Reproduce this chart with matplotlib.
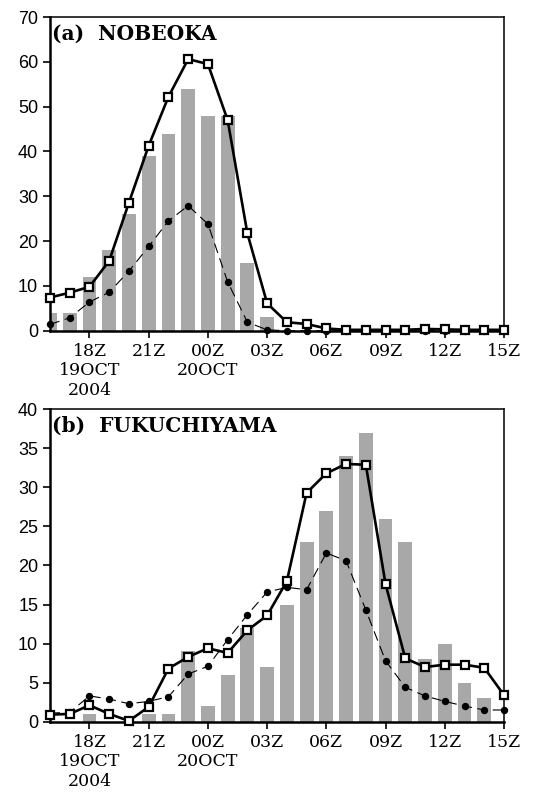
import matplotlib.pyplot as plt

# hours since 00Z 19 Oct 2004 (16Z 19 Oct .. 15Z 20 Oct)
hours = list(range(16, 40))

tick_hours = [18, 21, 24, 27, 30, 33, 36, 39]
tick_labels = ["18Z\n19OCT\n2004", "21Z", "00Z\n20OCT", "03Z", "06Z", "09Z", "12Z", "15Z"]

# (a) NOBEOKA
nobeoka_bars = [4, 4, 12, 18, 26, 39, 44, 54, 48, 48, 15, 3,
                0, 0, 0, 0, 0, 0, 0, 0, 0, 0, 0, 0]
nobeoka_squares = [7.4, 8.5, 9.8, 15.6, 28.6, 41.3, 52.2, 60.6, 59.5, 47.0, 21.7, 6.1,
                   1.9, 1.5, 0.5, 0.2, 0.2, 0.2, 0.2, 0.4, 0.3, 0.2, 0.2, 0.2]
nobeoka_dots = [1.4, 2.9, 6.4, 8.6, 13.3, 18.8, 24.5, 27.9, 23.8, 10.9, 1.9, 0.2,
                0, 0, 0, 0, 0, 0, 0, 0, 0, 0, 0, 0]

# (b) FUKUCHIYAMA
fuku_bars = [0, 0, 1, 0, 0, 1, 1, 9, 2, 6, 12, 7,
             15, 23, 27, 34, 37, 26, 23, 8, 10, 5, 3, 0]
fuku_squares = [0.9, 1.0, 2.1, 1.0, 0.1, 1.9, 6.8, 8.3, 9.4, 8.8, 11.7, 13.6,
                18.0, 29.3, 31.8, 33.0, 32.9, 17.6, 8.1, 7.0, 7.3, 7.3, 6.9, 3.4]
fuku_dots = [1.1, 1.2, 3.3, 2.9, 2.3, 2.6, 3.2, 6.1, 7.1, 10.5, 13.7, 16.6,
             17.2, 16.9, 21.6, 20.6, 14.3, 7.8, 4.4, 3.3, 2.6, 2.0, 1.5, 1.5]

serif = "DejaVu Serif"


def draw_panel(ax, bars, squares, dots, title, ymax, ystep):
    ax.bar(hours, bars, width=0.7, color="#a8a8a8", zorder=1)
    ax.plot(hours, dots, color="black", lw=0.8, ls=(0, (9, 5)),
            marker="o", ms=4.3, mfc="black", mec="black", zorder=2, clip_on=False)
    ax.plot(hours, squares, color="black", lw=1.9,
            marker="s", ms=5.5, mfc="white", mec="black", mew=1.6, zorder=3, clip_on=False)
    ax.set_xlim(16, 39)
    ax.set_ylim(0, ymax)
    ax.set_yticks(range(0, ymax + 1, ystep))
    ax.set_xticks(tick_hours)
    ax.set_xticklabels(tick_labels, family=serif, fontsize=12.5, linespacing=1.2)
    for lab in ax.get_yticklabels():
        lab.set_family("Liberation Sans")
        lab.set_fontsize(13)
    ax.tick_params(axis="both", direction="out", length=5, width=1.2)
    for side in ["left", "bottom"]:
        ax.spines[side].set_linewidth(1.8)
    for side in ["top", "right"]:
        ax.spines[side].set_linewidth(1.1)
    ax.text(0.005, 0.98, title, transform=ax.transAxes, ha="left", va="top",
            family=serif, fontweight="bold", fontsize=14.5, zorder=5)


fig = plt.figure(figsize=(5.33, 7.95), dpi=100)
ax1 = fig.add_axes([0.0938, 0.584, 0.8518, 0.3946])
ax2 = fig.add_axes([0.0938, 0.0922, 0.8518, 0.393])

draw_panel(ax1, nobeoka_bars, nobeoka_squares, nobeoka_dots, "(a)  NOBEOKA", 70, 10)
draw_panel(ax2, fuku_bars, fuku_squares, fuku_dots, "(b)  FUKUCHIYAMA", 40, 5)

fig.savefig("out.png", dpi=100)
